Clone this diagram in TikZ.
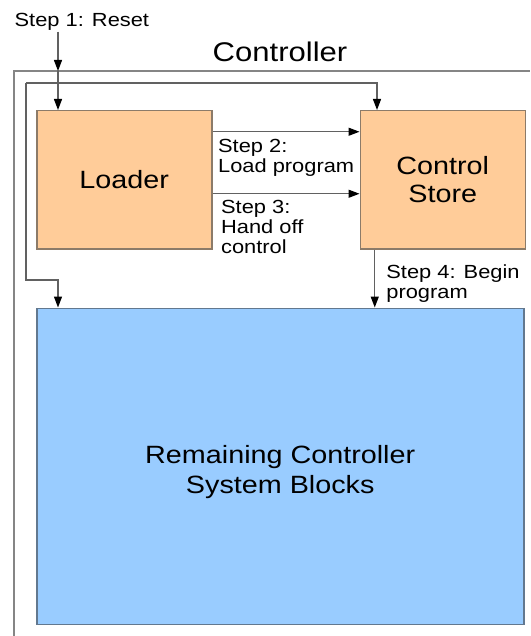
\documentclass[tikz,border=0pt]{standalone}
\usepackage{fontspec}
\setmainfont{Liberation Sans}[FakeStretch=1.15]
\usepackage{xcolor}
\usetikzlibrary{arrows.meta, positioning}

\definecolor{peach}{HTML}{FFCC99}
\definecolor{peachline}{HTML}{8C7B69}
\definecolor{skyblock}{HTML}{99CCFF}
\definecolor{skyline}{HTML}{62788F}

\begin{document}
\begin{tikzpicture}[x=1pt, y=-1pt, ->, >={Triangle[length=11pt, width=8pt, color=black]}, line width=1.3pt]
  \tikzstyle{block} = [rectangle, draw=peachline, fill=peach, line width=1.5pt, align=center, font=\fontsize{25}{28}\selectfont]
  \tikzstyle{wire} = [draw=black!62]
  \tikzstyle{frame} = [-, draw=black!48, line width=1.4pt]
  \tikzstyle{steplabel} = [inner sep=0pt, align=left, font=\fontsize{19}{20}\selectfont]

  \useasboundingbox (0,0) rectangle (530,636);

  % controller boundary
  \draw[frame] (14,636) |- (530,71);
  \node[inner sep=0pt, anchor=base, font=\fontsize{27}{30}\selectfont] (Title) at (280,62) {Controller};
  \node[steplabel, anchor=base west] (Reset) at (14,27) {Step 1: Reset};

  \node[block, minimum width=175pt, minimum height=138pt, anchor=north west] (Loader) at (36,110) {Loader};
  \node[block, minimum width=165pt, minimum height=138pt, right=147pt of Loader] (Store) {Control\\Store};
  \node[block, fill=skyblock, draw=skyline, minimum width=487pt, minimum height=316pt,
        below right=58pt and 0pt of Loader.south west, font=\fontsize{25}{30}\selectfont] (Remaining)
        {\rule{0pt}{30pt}Remaining Controller\\System Blocks};

  % reset distribution
  \coordinate (FrameIn) at (58,71);
  \coordinate (BusL) at (26,83);
  \coordinate (BusR) at (377,83);
  \coordinate (BusLow) at (26,280);

  \draw[wire] (Reset.south -| FrameIn) -- (FrameIn);
  \draw[wire] (FrameIn) -- (FrameIn |- Loader.north);
  \draw[wire] (BusL) -- (BusR) -- (BusR |- Store.north);
  \draw[wire] (BusL) |- (BusLow -| FrameIn) -- (FrameIn |- Remaining.north);

  % steps
  \draw[wire] ([yshift=48pt]Loader.east) -- ([yshift=48pt]Loader.east -| Store.west)
    node[steplabel, pos=0, anchor=north west, xshift=5pt, yshift=-7pt] {Step 2:\\Load program};
  \draw[wire] ([yshift=-14pt]Loader.east) -- ([yshift=-14pt]Loader.east -| Store.west)
    node[steplabel, pos=0, anchor=north west, xshift=8pt, yshift=-6pt] {Step 3:\\Hand off\\control};
  \draw[wire] ([xshift=-68pt]Store.south) -- ([xshift=-68pt]Store.south |- Remaining.north)
    node[steplabel, pos=0, anchor=north west, xshift=11pt, yshift=-15pt] {Step 4: Begin\\program};
\end{tikzpicture}
\end{document}
